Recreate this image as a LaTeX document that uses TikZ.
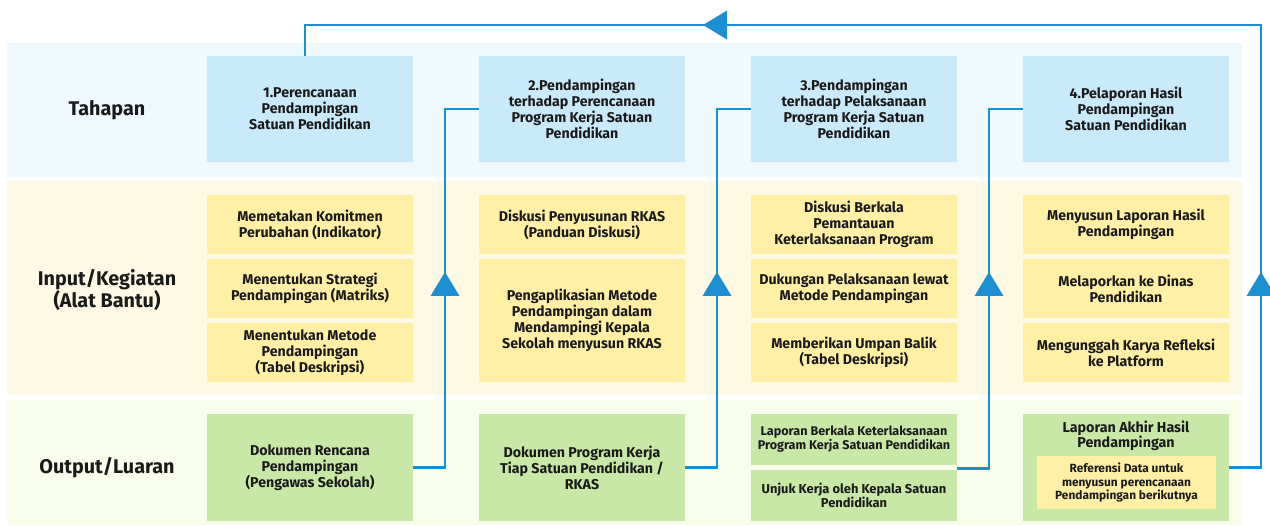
\documentclass[tikz,border=0pt]{standalone}
\usepackage{fontspec}
\setmainfont{Fira Sans}
\usetikzlibrary{calc}
\definecolor{bandA}{HTML}{EEF8FD}
\definecolor{bandB}{HTML}{FEF9E4}
\definecolor{bandC}{HTML}{F8FDEC}
\definecolor{boxA}{HTML}{C8EAFB}
\definecolor{boxB}{HTML}{FFF0A6}
\definecolor{boxC}{HTML}{C8E8A8}
\definecolor{flowc}{HTML}{1C8FD3}
\definecolor{txt}{HTML}{1A1A1A}
\begin{document}
\begin{tikzpicture}[x=1pt,y=-1pt,
  base/.style={inner sep=0pt, align=center, text=txt, font=\fontsize{14.2}{16}\selectfont\bfseries},
  stagebox/.style={base, fill=boxA, minimum width=206pt, minimum height=106pt},
  inbox/.style={base, fill=boxB, minimum width=206pt},
  outbox/.style={base, fill=boxC, minimum width=206pt},
  rowlabel/.style={inner sep=0pt, align=center, text=txt, font=\fontsize{19.8}{21}\selectfont\bfseries},
  flow/.style={draw=flowc, line width=2.8pt},
  tri/.style={fill=flowc}
]
\useasboundingbox (0,0) rectangle (1270,526);
% bands
\fill[bandA] (7,43) rectangle (1242,177);
\fill[bandB] (7,181) rectangle (1242,395);
\fill[bandC] (7,400) rectangle (1242,525);
% row labels
\node[rowlabel] (lA) at (107,110) {Tahapan};
\node[rowlabel] (lB) at (107,290) {Input/Kegiatan\\(Alat Bantu)};
\node[rowlabel] (lC) at (107,468) {Output/Luaran};
% stage row
\node[stagebox] (s1) at (310,109) {1.Perencanaan\\Pendampingan\\Satuan Pendidikan};
\node[stagebox] (s2) at (582,109) {2.Pendampingan\\terhadap Perencanaan\\Program Kerja Satuan\\Pendidikan};
\node[stagebox] (s3) at (854,109) {3.Pendampingan\\terhadap Pelaksanaan\\Program Kerja Satuan\\Pendidikan};
\node[stagebox] (s4) at (1126,109) {4.Pelaporan Hasil\\Pendampingan\\Satuan Pendidikan};
% input row
\node[inbox, minimum height=59pt] (a11) at (310,224.5) {Memetakan Komitmen\\Perubahan (Indikator)};
\node[inbox, minimum height=59pt] (a12) at (310,288.5) {Menentukan Strategi\\Pendampingan (Matriks)};
\node[inbox, minimum height=59pt] (a13) at (310,352.5) {Menentukan Metode\\Pendampingan\\(Tabel Deskripsi)};
\node[inbox, minimum height=59pt] (a21) at (582,224.5) {Diskusi Penyusunan RKAS\\(Panduan Diskusi)};
\node[inbox, minimum height=123pt] (a22) at (582,320.5) {Pengaplikasian Metode\\Pendampingan dalam\\Mendampingi Kepala\\Sekolah menyusun RKAS};
\node[inbox, minimum height=59pt] (a31) at (854,224.5) {Diskusi Berkala\\Pemantauan\\Keterlaksanaan Program};
\node[inbox, minimum height=59pt] (a32) at (854,288.5) {Dukungan Pelaksanaan lewat\\Metode Pendampingan};
\node[inbox, minimum height=59pt] (a33) at (854,352.5) {Memberikan Umpan Balik\\(Tabel Deskripsi)};
\node[inbox, minimum height=59pt] (a41) at (1126,224.5) {Menyusun Laporan Hasil\\Pendampingan};
\node[inbox, minimum height=59pt] (a42) at (1126,288.5) {Melaporkan ke Dinas\\Pendidikan};
\node[inbox, minimum height=59pt] (a43) at (1126,352.5) {Mengunggah Karya Refleksi\\ke Platform};
% output row
\node[outbox, minimum height=107pt] (o1) at (310,467.5) {Dokumen Rencana\\Pendampingan\\(Pengawas Sekolah)};
\node[outbox, minimum height=107pt] (o2) at (582,467.5) {Dokumen Program Kerja\\Tiap Satuan Pendidikan /\\RKAS};
\node[outbox, minimum height=51pt, font=\fontsize{12.6}{13}\selectfont\bfseries] (o3a) at (854,439.5) {Laporan Berkala Keterlaksanaan\\Program Kerja Satuan Pendidikan};
\node[outbox, minimum height=51pt, font=\fontsize{12.9}{13}\selectfont\bfseries] (o3b) at (854,495.5) {Unjuk Kerja oleh Kepala Satuan\\Pendidikan};
\node[outbox, minimum height=107pt] (o4) at (1126,467.5) {};
\node[base, font=\fontsize{14.3}{15}\selectfont\bfseries] (o4t) at (1126,436) {Laporan Akhir Hasil\\Pendampingan};
\node[base, fill=boxB, minimum width=179pt, minimum height=53pt, font=\fontsize{11.9}{13.5}\selectfont\bfseries] (ref) at (1126.5,482.5) {Referensi Data untuk\\menyusun perencanaan\\Pendampingan berikutnya};
% connectors
\coordinate (v1) at (445,0);
\coordinate (v2) at (717,0);
\coordinate (v3) at (989,0);
\coordinate (v4) at (1261,0);
\coordinate (top) at (0,25);
\coordinate (t1) at ($(s1.north)+(-5,0)$);
\coordinate (c3) at ($(o3b.north east)+(0,-1)$);
\draw[flow] (o1.east) -| (v1 |- s2.west) -- (s2.west);
\draw[flow] (o2.east) -| (v2 |- s3.west) -- (s3.west);
\draw[flow] (c3) -| (v3 |- s4.west) -- (s4.west);
\draw[flow] (o4.east) -| (v4 |- top) -| (t1);
% arrow heads
\foreach \c in {v1,v2,v3,v4}{
  \fill[tri] ($(\c)+(0,272)$) -- ($(\c)+(14.5,296)$) -- ($(\c)+(-14.5,296)$) -- cycle;
}
\fill[tri] (703,25) -- (727,10.5) -- (727,39.5) -- cycle;
\end{tikzpicture}
\end{document}
